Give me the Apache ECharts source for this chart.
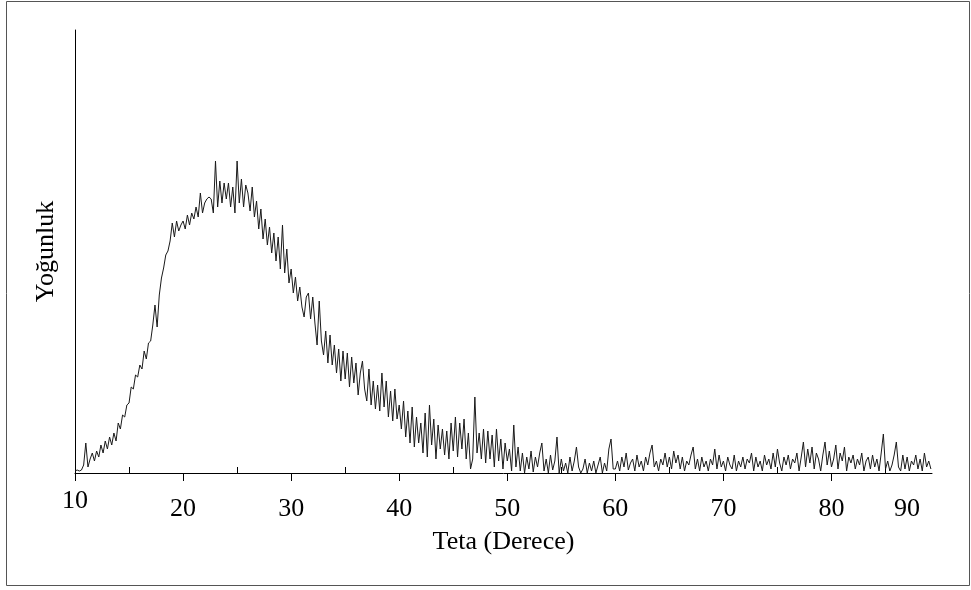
<!DOCTYPE html>
<html>
<head>
<meta charset="utf-8">
<script src="https://cdn.jsdelivr.net/npm/echarts@6/dist/echarts.min.js"></script>
<style>
html,body{margin:0;padding:0;background:#fff;}
#chart{width:971px;height:590px;}
</style>
</head>
<body>
<div id="chart"></div>
<script>
// Sampling grid of the pattern (degrees)
var thetaStart = 10.0;
var thetaStep = 0.2;
// Intensity (arbitrary units), one value per step
var intensity = [
  2,3,2,3,8,30,6,14,20,12,
  22,16,28,20,32,24,36,28,40,32,
  50,44,58,56,68,70,86,84,98,96,
  108,104,122,114,130,132,148,168,146,178,
  195,205,218,222,232,250,236,252,242,248,
  252,244,258,248,260,254,266,256,280,260,
  270,274,276,274,260,312,266,292,270,290,
  274,290,266,286,260,312,270,294,266,288,
  280,262,286,256,272,244,264,234,254,228,
  246,220,240,212,236,204,248,200,224,190,
  204,180,196,172,186,166,156,176,180,154,
  176,150,128,172,132,118,142,110,138,108,
  128,100,124,92,122,94,120,86,116,90,
  110,78,100,112,84,72,104,68,92,64,
  88,62,100,66,92,56,82,52,84,54,
  68,44,72,36,62,30,66,26,56,30,
  50,20,60,16,68,28,54,14,48,24,
  44,18,42,14,50,22,56,16,50,24,
  54,14,40,4,14,76,20,40,14,44,
  10,42,14,38,6,44,12,34,4,30,
  12,24,2,48,6,26,2,20,0,16,
  4,22,1,16,6,20,30,2,14,0,
  18,3,12,36,0,14,2,10,0,16,
  2,12,26,6,0,4,14,0,10,2,
  12,0,8,16,0,10,2,24,34,4,
  4,12,2,16,6,20,3,10,14,2,
  18,6,12,2,16,8,20,28,6,12,
  2,14,8,20,6,16,4,22,10,18,
  4,16,2,12,8,18,26,4,14,2,
  16,6,12,2,14,8,24,4,18,6,
  12,2,16,8,4,18,2,12,6,16,
  4,14,10,20,2,16,6,12,2,18,
  8,14,4,20,6,24,10,2,16,8,
  18,4,14,10,20,2,16,31,6,24,
  10,26,4,20,14,2,18,31,8,22,
  6,14,28,4,20,12,26,2,16,10,
  18,4,14,8,20,2,12,16,4,18,
  6,14,2,20,39,4,12,2,8,18,
  31,6,2,18,4,16,2,12,8,18,
  4,14,2,20,6,12,4
];
var majorTicks = [10, 20, 30, 40, 50, 60, 70, 80];
var minorTicks = [15, 25, 35, 45, 55, 65, 75, 85];
var tickLabels = [20, 30, 40, 50, 60, 70, 80];
var xMin = 10, xMax = 89.3;
var yMin = 0, yMax = 443;

var seriesData = intensity.map(function (v, i) {
  return [+(thetaStart + i * thetaStep).toFixed(2), v];
});

var FONT = "'Liberation Serif', 'Times New Roman', serif";
var chart = echarts.init(document.getElementById('chart'), null, {renderer: 'canvas'});
chart.setOption({
  animation: false,
  backgroundColor: '#fff',
  grid: {left: 75, right: 39, top: 30, bottom: 117, containLabel: false},
  xAxis: [{
    type: 'value', min: xMin, max: xMax,
    splitLine: {show: false},
    axisLine: {show: true, lineStyle: {color: '#000', width: 1}},
    axisTick: {show: true, inside: false, length: 8, customValues: majorTicks, lineStyle: {color: '#000'}},
    axisLabel: {show: true, customValues: tickLabels, margin: 23, fontFamily: FONT, fontSize: 26, lineHeight: 26, color: '#000'},
    name: 'Teta (Derece)', nameLocation: 'middle', nameGap: 56,
    nameTextStyle: {fontFamily: FONT, fontSize: 26, lineHeight: 26, color: '#000'}
  }, {
    type: 'value', min: xMin, max: xMax, position: 'bottom', gridIndex: 0,
    splitLine: {show: false},
    axisLine: {show: false},
    axisTick: {show: true, inside: true, length: 6, customValues: minorTicks, lineStyle: {color: '#000'}},
    axisLabel: {show: false}
  }],
  yAxis: {
    type: 'value', min: yMin, max: yMax,
    splitLine: {show: false},
    axisLine: {show: true, lineStyle: {color: '#000', width: 1}},
    axisTick: {show: false},
    axisLabel: {show: false},
    name: 'Yoğunluk', nameLocation: 'middle', nameGap: 16,
    nameTextStyle: {fontFamily: FONT, fontSize: 26, lineHeight: 26, color: '#000'}
  },
  series: [{
    type: 'line', xAxisIndex: 0, data: seriesData, showSymbol: false, symbol: 'none',
    lineStyle: {color: '#1a1a1a', width: 1}, smooth: false, z: 3
  }],
  graphic: [
    {type: 'rect', shape: {x: 6.5, y: 1.5, width: 963, height: 584}, style: {fill: 'none', stroke: '#555', lineWidth: 1}, silent: true, z: -1},
    {type: 'text', x: 75, y: 501, style: {text: '10', fontFamily: FONT, fontSize: 26, fill: '#000', textAlign: 'center', textVerticalAlign: 'middle'}},
    {type: 'text', x: 907, y: 509, style: {text: '90', fontFamily: FONT, fontSize: 26, fill: '#000', textAlign: 'center', textVerticalAlign: 'middle'}}
  ]
});
</script>
</body>
</html>
